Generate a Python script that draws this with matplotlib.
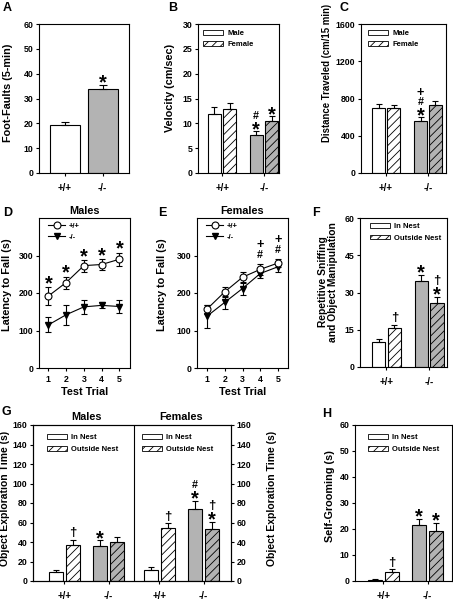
import matplotlib
matplotlib.use("Agg")
import matplotlib.pyplot as plt
from matplotlib.patches import Patch
from matplotlib.lines import Line2D
from matplotlib.textpath import TextPath
from matplotlib.font_manager import FontProperties

plt.rcParams['font.family'] = ['Liberation Sans', 'DejaVu Sans']
plt.rcParams['font.weight'] = 'bold'
plt.rcParams['axes.labelweight'] = 'bold'
plt.rcParams['hatch.linewidth'] = 0.6

# ---- data ----
genotypes = ['+/+', '-/-']

footfaults = [19.2, 33.8]
footfaults_sem = [1.3, 1.7]

velocity_male = [11.8, 7.6]
velocity_male_sem = [1.4, 0.8]
velocity_female = [12.9, 10.4]
velocity_female_sem = [1.2, 1.0]

distance_male = [700, 560]
distance_male_sem = [45, 40]
distance_female = [695, 735]
distance_female_sem = [40, 35]

trials = [1, 2, 3, 4, 5]
rotarod_male_wt = [192, 228, 273, 276, 290]
rotarod_male_wt_sem = [23, 16, 16, 14, 18]
rotarod_male_ko = [115, 142, 163, 167, 164]
rotarod_male_ko_sem = [20, 27, 18, 8, 18]
rotarod_female_wt = [157, 203, 242, 263, 280]
rotarod_female_wt_sem = [12, 14, 14, 15, 10]
rotarod_female_ko = [138, 175, 212, 252, 270]
rotarod_female_ko_sem = [30, 18, 17, 12, 13]

sniff_in = [10.2, 34.8]
sniff_in_sem = [1.2, 2.3]
sniff_out = [15.8, 25.6]
sniff_out_sem = [1.3, 2.6]

explore_male_in = [9.5, 36]
explore_male_in_sem = [1.8, 6]
explore_male_out = [37, 40]
explore_male_out_sem = [5.5, 5]
explore_female_in = [11, 74]
explore_female_in_sem = [3, 8.5]
explore_female_out = [54, 53]
explore_female_out_sem = [5, 7.5]

groom_in = [0.4, 21.6]
groom_in_sem = [0.2, 2.3]
groom_out = [3.5, 19.3]
groom_out_sem = [1.0, 3.2]

GRAY = '#b3b3b3'
HATCH = '////'
W, H = 453, 600
PX = 72 / 100  # points per pixel

fig = plt.figure(figsize=(W / 100, H / 100), dpi=100)


def px_axes(l, t, r, b):
    return fig.add_axes([l / W, 1 - b / H, (r - l) / W, (b - t) / H])


def style(ax):
    for s in ax.spines.values():
        s.set_linewidth(0.8)
    ax.tick_params(direction='out', length=2.2, width=0.8, labelsize=6.3, pad=2)
    ax.tick_params(axis='x', pad=5)


def ylabel(text, xpx, ypx, size=7.8):
    fig.text(xpx / W, 1 - ypx / H, text, rotation=90, ha='center',
             va='center', fontsize=size, fontweight='bold', linespacing=1.0)


def letter(text, xpx, ypx):
    fig.text(xpx / W, 1 - ypx / H, text, fontsize=9, fontweight='bold', va='top', ha='left')


# significance symbols: measured glyph ink so they stack cleanly
FP = FontProperties(family='Liberation Sans', weight='bold')
SYM_HEIGHT = {'*': 7.5, '#': 7.3, '\u2020': 10.5, '+': 6.5}  # ink height, px


def ink(s):
    e = TextPath((0, 0), s, size=1, prop=FP).get_extents()
    return e.y0, e.y1


def mark(ax, x, y, syms, gap=2.5, step=2.5):
    cur = gap * PX
    for s in syms:
        lo, hi = ink(s)
        size = SYM_HEIGHT[s] * PX / (hi - lo)
        base = cur - lo * size
        ax.annotate(s, (x, y), xytext=(0, base), textcoords='offset points',
                    ha='center', va='baseline', fontsize=size, fontweight='bold')
        cur = base + hi * size + step * PX


def bars(ax, x, vals, sem, color, hatch=None, width=0.31):
    ax.bar(x, vals, width, color=color, edgecolor='black', linewidth=0.8, hatch=hatch)
    ax.errorbar(x, vals, yerr=[[0] * len(vals), sem], fmt='none', ecolor='black',
                elinewidth=0.8, capsize=2, capthick=0.8)


def pair_panel(ax, a, a_sem, b, b_sem, width=0.31, gap=0.06):
    off = (width + gap) / 2
    xa = [1 - off, 2 - off]
    xb = [1 + off, 2 + off]
    bars(ax, [xa[0]], [a[0]], [a_sem[0]], 'white', width=width)
    bars(ax, [xa[1]], [a[1]], [a_sem[1]], GRAY, width=width)
    bars(ax, [xb[0]], [b[0]], [b_sem[0]], 'white', HATCH, width=width)
    bars(ax, [xb[1]], [b[1]], [b_sem[1]], GRAY, HATCH, width=width)
    ax.set_xticks([1, 2])
    ax.set_xticklabels(genotypes, fontsize=7)
    return xa, xb


def bar_legend(ax, labels, x, y):
    handles = [Patch(facecolor='white', edgecolor='black', linewidth=0.6),
               Patch(facecolor='white', edgecolor='black', linewidth=0.6, hatch=HATCH)]
    leg = ax.legend(handles, labels, loc='upper left', bbox_to_anchor=(x, y), frameon=False,
                    fontsize=5.5, handlelength=2.6, handleheight=0.6, labelspacing=0.55,
                    handletextpad=0.6, borderaxespad=0, borderpad=0)
    return leg


# ---- A ----
axA = px_axes(39, 24, 129, 173)
style(axA)
axA.bar([1], [footfaults[0]], 0.8, color='white', edgecolor='black', linewidth=0.8)
axA.bar([2], [footfaults[1]], 0.8, color=GRAY, edgecolor='black', linewidth=0.8)
axA.errorbar([1, 2], footfaults, yerr=[[0, 0], footfaults_sem], fmt='none', ecolor='black',
             elinewidth=0.8, capsize=3, capthick=0.8)
axA.set_xlim(0.31, 2.70)
axA.set_ylim(0, 60)
axA.set_yticks(range(0, 61, 10))
axA.set_xticks([1, 2])
axA.set_xticklabels(genotypes, fontsize=7)
mark(axA, 2, footfaults[1] + footfaults_sem[1], ['*'])
ylabel('Foot-Faults (5-min)', 8, 93)
letter('A', 3, 2)

# ---- B ----
axB = px_axes(198, 24, 279, 173)
style(axB)
xa, xb = pair_panel(axB, velocity_male, velocity_male_sem, velocity_female, velocity_female_sem)
axB.set_xlim(0.42, 2.36)
axB.set_ylim(0, 30)
axB.set_yticks(range(0, 31, 5))
bar_legend(axB, ['Male', 'Female'], 0.06, 0.96)
mark(axB, xa[1], velocity_male[1] + velocity_male_sem[1], ['*', '#'])
mark(axB, xb[1], velocity_female[1] + velocity_female_sem[1], ['*'])
ylabel('Velocity (cm/sec)', 170, 88)
letter('B', 168, 2)

# ---- C ----
axC = px_axes(361, 24, 446, 173)
style(axC)
xa, xb = pair_panel(axC, distance_male, distance_male_sem, distance_female, distance_female_sem,
                    width=0.30, gap=0.055)
axC.set_xlim(0.40, 2.43)
axC.set_ylim(0, 1600)
axC.set_yticks(range(0, 1601, 400))
bar_legend(axC, ['Male', 'Female'], 0.08, 0.96)
mark(axC, xa[1], distance_male[1] + distance_male_sem[1], ['*', '#', '+'])
ylabel('Distance Traveled (cm/15 min)', 327, 73, size=6.9)
letter('C', 340, 2)


# ---- D / E ----
def rotarod(ax, wt, wt_sem, ko, ko_sem, title):
    style(ax)
    ax.errorbar(trials, ko, yerr=ko_sem, color='black', lw=0.8, marker='v', ms=5,
                mfc='black', mec='black', capsize=2, capthick=0.8, elinewidth=0.8)
    ax.errorbar(trials, wt, yerr=wt_sem, color='black', lw=0.8, marker='o', ms=5,
                mfc='white', mec='black', mew=0.8, capsize=2, capthick=0.8, elinewidth=0.8)
    ax.set_ylim(0, 400)
    ax.set_yticks([0, 100, 200, 300])
    ax.set_xticks(trials)
    ax.tick_params(axis='x', pad=3)
    ax.set_xlabel('Test Trial', fontsize=7.8, labelpad=2)
    ax.set_title(title, fontsize=7.8, fontweight='bold', pad=3)
    handles = [Line2D([], [], color='black', lw=0.8, marker='o', ms=5, mfc='white', mew=0.8),
               Line2D([], [], color='black', lw=0.8, marker='v', ms=5, mfc='black')]
    ax.legend(handles, ['+/+', '-/-'], loc='upper left', bbox_to_anchor=(0.1, 0.97),
              frameon=False, fontsize=5.5, handlelength=2.2, labelspacing=0.5,
              handletextpad=0.5, borderaxespad=0, borderpad=0)


axD = px_axes(39, 218, 130, 368)
rotarod(axD, rotarod_male_wt, rotarod_male_wt_sem, rotarod_male_ko, rotarod_male_ko_sem, 'Males')
axD.set_xlim(0.47, 5.6)
for t, v, s in zip(trials, rotarod_male_wt, rotarod_male_wt_sem):
    mark(axD, t, v + s, ['*'], gap=4)
ylabel('Latency to Fall (s)', 7, 285)
letter('D', 3, 207)

axE = px_axes(197, 218, 288, 368)
rotarod(axE, rotarod_female_wt, rotarod_female_wt_sem, rotarod_female_ko, rotarod_female_ko_sem,
        'Females')
axE.set_xlim(0.44, 5.56)
for i in (3, 4):
    mark(axE, trials[i], rotarod_female_wt[i] + rotarod_female_wt_sem[i], ['#', '+'], gap=6,
         step=3.5)
ylabel('Latency to Fall (s)', 162, 285)
letter('E', 158, 207)

# ---- F ----
axF = px_axes(360, 218, 447, 367)
style(axF)
xa, xb = pair_panel(axF, sniff_in, sniff_in_sem, sniff_out, sniff_out_sem)
axF.set_xlim(0.38, 2.42)
axF.set_ylim(0, 60)
axF.set_yticks(range(0, 61, 15))
bar_legend(axF, ['In Nest', 'Outside Nest'], 0.115, 0.965)
mark(axF, xb[0], sniff_out[0] + sniff_out_sem[0], ['\u2020'])
mark(axF, xa[1], sniff_in[1] + sniff_in_sem[1], ['*'])
mark(axF, xb[1], sniff_out[1] + sniff_out_sem[1], ['*', '\u2020'])
ylabel('Repetitive Sniffing\nand Object Manipulation', 328, 282, size=7.4)
letter('F', 312, 207)

# ---- G ----
axG = px_axes(33, 425, 231, 581)
style(axG)
wg, gg = 0.32, 0.057
og = (wg + gg) / 2
centers = [1, 2, 3.15, 4.15]
g_in = explore_male_in + explore_female_in
g_in_sem = explore_male_in_sem + explore_female_in_sem
g_out = explore_male_out + explore_female_out
g_out_sem = explore_male_out_sem + explore_female_out_sem
for i, c in enumerate(centers):
    col = 'white' if i % 2 == 0 else GRAY
    bars(axG, [c - og], [g_in[i]], [g_in_sem[i]], col, width=wg)
    bars(axG, [c + og], [g_out[i]], [g_out_sem[i]], col, HATCH, width=wg)
axG.axvline(2.575, color='black', lw=0.8)
axG.set_xlim(0.29, 4.77)
axG.set_ylim(0, 160)
axG.set_yticks(range(0, 161, 20))
axG.set_xticks(centers)
axG.set_xticklabels(genotypes * 2, fontsize=7)
axG2 = axG.twinx()
style(axG2)
axG2.set_ylim(0, 160)
axG2.set_yticks(range(0, 161, 20))
axG.text(1.5, 1.02, 'Males', transform=axG.get_xaxis_transform(), ha='center', va='bottom',
         fontsize=7.8, fontweight='bold')
axG.text(3.65, 1.02, 'Females', transform=axG.get_xaxis_transform(), ha='center', va='bottom',
         fontsize=7.8, fontweight='bold')
bar_legend(axG, ['In Nest', 'Outside Nest'], 0.07, 0.94)
bar_legend(axG2, ['In Nest', 'Outside Nest'], 0.55, 0.94)
mark(axG, centers[0] + og, g_out[0] + g_out_sem[0], ['\u2020'])
mark(axG, centers[1] - og, g_in[1] + g_in_sem[1], ['*'])
mark(axG, centers[2] + og, g_out[2] + g_out_sem[2], ['\u2020'])
mark(axG, centers[3] - og, g_in[3] + g_in_sem[3], ['*', '#'])
mark(axG, centers[3] + og, g_out[3] + g_out_sem[3], ['*', '\u2020'])
ylabel('Object Exploration Time (s)', 5, 498, size=7.5)
ylabel('Object Exploration Time (s)', 272, 498, size=7.5)
letter('G', 1, 406)

# ---- H ----
axH = px_axes(355, 425, 452, 581)
style(axH)
xa, xb = pair_panel(axH, groom_in, groom_in_sem, groom_out, groom_out_sem, width=0.33, gap=0.054)
axH.set_xlim(0.36, 2.55)
axH.set_ylim(0, 60)
axH.set_yticks(range(0, 61, 10))
bar_legend(axH, ['In Nest', 'Outside Nest'], 0.134, 0.94)
mark(axH, xb[0], groom_out[0] + groom_out_sem[0], ['\u2020'])
mark(axH, xa[1], groom_in[1] + groom_in_sem[1], ['*'])
mark(axH, xb[1], groom_out[1] + groom_out_sem[1], ['*'])
ylabel('Self-Grooming (s)', 330, 496)
letter('H', 322, 408)

fig.savefig('out.png', dpi=100)
